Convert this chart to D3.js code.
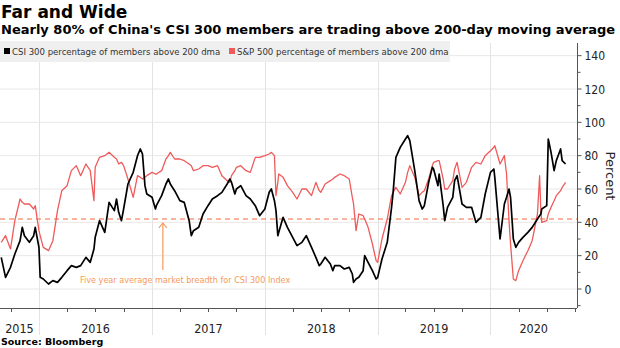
<!DOCTYPE html>
<html>
<head>
<meta charset="utf-8">
<script src="https://cdn.jsdelivr.net/npm/d3@7.9.0/dist/d3.min.js"></script>
<style>
  html, body { margin: 0; padding: 0; background: #fff; }
  svg { display: block; }
  text { font-family: "DejaVu Sans Condensed", "DejaVu Sans", sans-serif; }
</style>
</head>
<body>
<div id="chart"></div>
<script>
// semi-monthly readings (plus a few extra dates around sharp moves)
const dates = [
  "2015-09-01","2015-09-15","2015-10-01","2015-10-15","2015-11-01","2015-11-08","2015-11-15","2015-12-01","2015-12-15","2015-12-20",
  "2016-01-01","2016-01-05","2016-01-15","2016-02-01","2016-02-15","2016-03-01","2016-03-15","2016-04-01","2016-04-15","2016-05-01",
  "2016-05-15","2016-06-01","2016-06-15","2016-06-27","2016-07-01","2016-07-15","2016-08-01","2016-08-15","2016-09-01","2016-09-08",
  "2016-09-15","2016-09-24","2016-10-01","2016-10-15","2016-11-01","2016-11-15","2016-11-24","2016-12-01","2016-12-09","2016-12-15",
  "2017-01-01","2017-01-12","2017-01-15","2017-02-01","2017-02-15","2017-02-23","2017-03-01","2017-03-15","2017-04-01","2017-04-15",
  "2017-05-01","2017-05-08","2017-05-15","2017-06-01","2017-06-15","2017-07-01","2017-07-15","2017-08-01","2017-08-15","2017-09-01",
  "2017-09-10","2017-09-15","2017-09-26","2017-10-01","2017-10-15","2017-11-01","2017-11-15","2017-12-01","2017-12-15","2018-01-01",
  "2018-01-15","2018-01-22","2018-02-01","2018-02-06","2018-02-12","2018-02-15","2018-03-01","2018-03-15","2018-04-01","2018-04-15",
  "2018-05-01","2018-05-15","2018-06-01","2018-06-15","2018-06-26","2018-07-01","2018-07-15","2018-08-01","2018-08-09","2018-08-15",
  "2018-09-01","2018-09-15","2018-10-01","2018-10-11","2018-10-15","2018-10-23","2018-11-01","2018-11-15","2018-11-20","2018-12-01",
  "2018-12-15","2018-12-27","2019-01-01","2019-01-15","2019-02-01","2019-02-15","2019-02-20","2019-03-01","2019-03-15","2019-04-01",
  "2019-04-08","2019-04-15","2019-05-01","2019-05-15","2019-05-25","2019-06-01","2019-06-15","2019-06-27","2019-07-01","2019-07-15",
  "2019-07-19","2019-08-01","2019-08-06","2019-08-15","2019-09-01","2019-09-07","2019-09-15","2019-10-01","2019-10-15","2019-11-01",
  "2019-11-15","2019-12-01","2019-12-15","2020-01-01","2020-01-12","2020-01-15","2020-02-01","2020-02-15","2020-02-22","2020-03-01",
  "2020-03-06","2020-03-15","2020-03-23","2020-04-01","2020-04-15","2020-05-01","2020-05-15","2020-06-01","2020-06-08","2020-06-12",
  "2020-06-15","2020-07-01","2020-07-06","2020-07-15","2020-07-25","2020-08-01","2020-08-15","2020-08-20","2020-08-31"
];

// CSI 300: % of members above 200-day moving average
const csi = [
  19, 7, 13, 21, 29, 37, 32, 28, 32, 37,
  25, 7, 6, 3, 5, 4, 7, 11, 14, 13,
  14, 19, 16, 24, 31, 41, 34, 52, 47, 54,
  46, 41, 48, 63, 70, 80, 84, 81, 62, 57,
  55, 48, 50, 56, 63, 66, 63, 59, 53, 52,
  41, 32, 35, 37, 45, 50, 54, 56, 58, 63,
  66, 64, 57, 60, 62, 56, 54, 50, 44, 48,
  58, 60, 53, 47, 32, 34, 43, 37, 31, 26,
  28, 32, 25, 19, 14, 15, 19, 15, 11, 14,
  14, 12, 13, 9, 4, 6, 7, 11, 20, 16,
  11, 6, 7, 18, 28, 49, 58, 79, 85, 90,
  92, 89, 71, 53, 48, 50, 64, 73, 72, 62,
  69, 50, 41, 49, 55, 65, 68, 51, 49, 49,
  40, 43, 57, 70, 72, 67, 30, 51, 55, 60,
  55, 30, 25, 28, 31, 34, 37, 42, 44, 45,
  48, 50, 90, 82, 71, 77, 84, 77, 75
];

// S&P 500: % of members above 200-day moving average
const spx = [
  28, 32, 24, 41, 54, 52, 51, 51, 48, 50,
  35, 32, 25, 23, 29, 47, 59, 62, 71, 74,
  68, 75, 71, 53, 73, 79, 80, 82, 79, 78,
  75, 76, 74, 66, 55, 68, 67, 66, 67, 68,
  70, 69, 69, 71, 78, 80, 82, 78, 78, 77,
  75, 74, 71, 72, 74, 74, 73, 74, 68, 65,
  64, 68, 71, 73, 74, 71, 70, 79, 79, 80,
  81, 82, 80, 56, 64, 69, 67, 62, 58, 54,
  60, 60, 56, 64, 59, 58, 63, 65, 66, 67,
  69, 68, 66, 55, 51, 35, 45, 44, 42, 37,
  27, 17, 16, 30, 42, 56, 58, 61, 57, 64,
  70, 74, 67, 56, 58, 59, 66, 74, 76, 77,
  77, 66, 60, 60, 65, 72, 76, 61, 64, 73,
  76, 75, 80, 83, 85, 86, 75, 80, 69, 41,
  27, 6, 5, 11, 17, 23, 29, 45, 68, 47,
  40, 41, 45, 49, 53, 56, 59, 61, 64
];

const yTicks = [0, 20, 40, 60, 80, 100, 120, 140];
const fiveYearAvg = 42;

const legendLabels = [
  "CSI 300 percentage of members above 200 dma",
  "S&P 500 percentage of members above 200 dma"
];
const colors = ["#000000", "#f05a5a"];

const width = 620;
const height = 348;
const plot = { left: 0, right: 577, top: 43, bottom: 308 };

const parse = d3.timeParse("%Y-%m-%d");
const series = [csi, spx].map(vals => dates.map((d, i) => ({ date: parse(d), value: vals[i] })));

const svg = d3.select("#chart").append("svg")
  .attr("width", width)
  .attr("height", height);

const x = d3.scaleTime()
  .domain([parse("2015-08-28"), parse("2020-10-07")])
  .range([plot.left, plot.right]);

const y = d3.scaleLinear()
  .domain([-11.4, 147.6])
  .range([plot.bottom, plot.top]);

// title block
svg.append("text")
  .attr("x", 1).attr("y", 18)
  .style("font-family", "DejaVu Sans").style("font-weight", "bold")
  .style("font-size", "17px").attr("fill", "#000")
  .text("Far and Wide");

svg.append("text")
  .attr("x", 1).attr("y", 34)
  .style("font-family", "DejaVu Sans").style("font-weight", "bold")
  .style("font-size", "13px").attr("fill", "#000")
  .text("Nearly 80% of China's CSI 300 members are trading above 200-day moving average");

// gridlines
svg.append("g")
  .selectAll("line")
  .data(yTicks)
  .join("line")
  .attr("x1", plot.left).attr("x2", plot.right)
  .attr("y1", d => y(d)).attr("y2", d => y(d))
  .attr("stroke", "#e8e8e8").attr("stroke-width", 1);

const years = d3.timeYear.range(parse("2016-01-01"), x.domain()[1]);
svg.append("g")
  .selectAll("line")
  .data(years)
  .join("line")
  .attr("x1", d => Math.round(x(d)) + 0.5).attr("x2", d => Math.round(x(d)) + 0.5)
  .attr("y1", plot.top).attr("y2", plot.bottom + 27)
  .attr("stroke", "#e3e3e3").attr("stroke-width", 1);

// legend band
const legend = svg.append("g");
legend.append("rect")
  .attr("x", 0).attr("y", 41).attr("width", 450).attr("height", 21)
  .attr("fill", "#efefef");
const legendX = [4, 229];
legendLabels.forEach((label, i) => {
  legend.append("rect")
    .attr("x", legendX[i]).attr("y", 48).attr("width", 6).attr("height", 6)
    .attr("fill", colors[i]);
  legend.append("text")
    .attr("x", legendX[i] + 8).attr("y", 55)
    .style("font-size", "9.5px").attr("fill", "#333")
    .text(label);
});

// x axis: year boundaries, quarter ticks, centred year labels
svg.append("line")
  .attr("x1", plot.left).attr("x2", plot.right)
  .attr("y1", plot.bottom + 0.5).attr("y2", plot.bottom + 0.5)
  .attr("stroke", "#555");

const quarters = d3.timeMonth.every(3).range(x.domain()[0], x.domain()[1])
  .filter(d => d.getMonth() !== 0);
svg.append("g")
  .selectAll("line")
  .data(quarters)
  .join("line")
  .attr("x1", d => Math.round(x(d)) + 0.5).attr("x2", d => Math.round(x(d)) + 0.5)
  .attr("y1", plot.bottom).attr("y2", plot.bottom + 4)
  .attr("stroke", "#555");

const yearStarts = d3.timeYear.range(parse("2015-01-01"), x.domain()[1]);
svg.append("g")
  .selectAll("text")
  .data(yearStarts)
  .join("text")
  .attr("x", d => {
    const a = Math.max(x(d), plot.left);
    const b = Math.min(x(d3.timeYear.offset(d, 1)), plot.right);
    return (a + b) / 2;
  })
  .attr("y", 333)
  .attr("text-anchor", "middle")
  .style("font-size", "12.5px").attr("fill", "#222")
  .text(d => d.getFullYear());

// y axis on the right
const yAxis = svg.append("g")
  .attr("transform", `translate(${plot.right + 0.5},0)`);
yAxis.append("line")
  .attr("y1", plot.top).attr("y2", plot.bottom)
  .attr("stroke", "#555");
yAxis.selectAll(".minor")
  .data(d3.range(-10, 150, 20))
  .join("line")
  .attr("x2", 3)
  .attr("y1", d => y(d)).attr("y2", d => y(d))
  .attr("stroke", "#555");
yAxis.selectAll(".major")
  .data(yTicks)
  .join("line")
  .attr("x2", 4)
  .attr("y1", d => y(d)).attr("y2", d => y(d))
  .attr("stroke", "#555");
yAxis.selectAll("text")
  .data(yTicks)
  .join("text")
  .attr("x", 7)
  .attr("y", d => y(d) + 4.5)
  .style("font-size", "12px").attr("fill", "#222")
  .text(d => d);

svg.append("text")
  .attr("transform", `translate(606, 176) rotate(90)`)
  .attr("text-anchor", "middle")
  .style("font-family", "DejaVu Sans").style("font-size", "13px").attr("fill", "#222")
  .text("Percent");

// five-year average reference line
svg.append("line")
  .attr("x1", plot.left).attr("x2", plot.right)
  .attr("y1", y(fiveYearAvg)).attr("y2", y(fiveYearAvg))
  .attr("stroke", "#f26a3c").attr("stroke-width", 1.2)
  .attr("stroke-dasharray", "5,4");

// series lines, S&P underneath CSI
const line = d3.line()
  .x(d => x(d.date))
  .y(d => y(d.value));

svg.append("path")
  .datum(series[1])
  .attr("fill", "none")
  .attr("stroke", colors[1]).attr("stroke-width", 1.3)
  .attr("stroke-linejoin", "round")
  .attr("d", line);

svg.append("path")
  .datum(series[0])
  .attr("fill", "none")
  .attr("stroke", colors[0]).attr("stroke-width", 1.7)
  .attr("stroke-linejoin", "round")
  .attr("d", line);

// annotation arrow + note
const noteColor = "#f39a5c";
const arrowX = x(parse("2017-02-05"));
svg.append("line")
  .attr("x1", arrowX).attr("x2", arrowX)
  .attr("y1", y(fiveYearAvg) + 4).attr("y2", 270)
  .attr("stroke", noteColor).attr("stroke-width", 1.2);
svg.append("path")
  .attr("d", `M${arrowX - 4},${y(fiveYearAvg) + 9} L${arrowX},${y(fiveYearAvg) + 4} L${arrowX + 4},${y(fiveYearAvg) + 9}`)
  .attr("fill", "none").attr("stroke", noteColor).attr("stroke-width", 1.2);
svg.append("text")
  .attr("x", 80).attr("y", 283)
  .style("font-size", "9px").attr("fill", noteColor)
  .text("Five year average market breadth for CSI 300 Index");

svg.append("text")
  .attr("x", 1).attr("y", 345)
  .style("font-family", "DejaVu Sans").style("font-weight", "bold")
  .style("font-size", "9.5px").attr("fill", "#000")
  .text("Source: Bloomberg");
</script>
</body>
</html>
